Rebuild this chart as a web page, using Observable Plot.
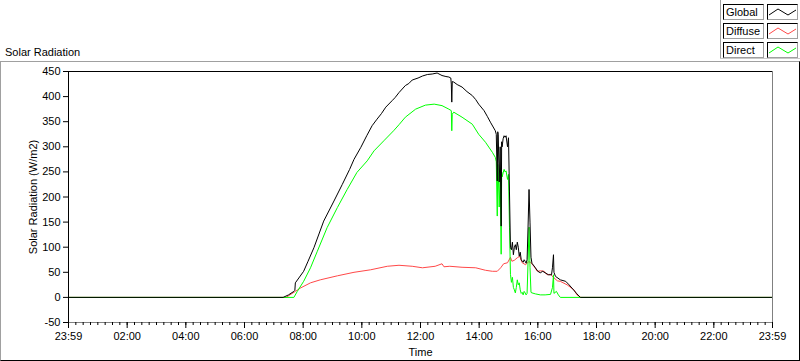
<!DOCTYPE html>
<html>
<head>
<meta charset="utf-8">
<script src="https://cdn.jsdelivr.net/npm/d3@7"></script>
<script src="https://cdn.jsdelivr.net/npm/@observablehq/plot@0.6"></script>
<style>
  body { margin: 0; background: #fff; }
  #wrap { position: relative; width: 800px; height: 361px; overflow: hidden;
          font-family: "Liberation Sans", Arial, sans-serif; font-size: 11px; color: #000; }
  .abs { position: absolute; }
  .box { position: absolute; box-sizing: border-box; height: 16px;
         border-top: 1px solid #000; border-left: 1px solid #000;
         border-right: 1px solid #a0a0a0; border-bottom: 1px solid #a0a0a0;
         background: #fff; line-height: 14px; padding-left: 2px; }
  #plot { position: absolute; left: 0; top: 0; }
</style>
</head>
<body>
<div id="wrap">
  <div class="abs" style="left:720px;top:0;width:1px;height:59px;background:#a0a0a0"></div>
  <div class="abs" style="left:720px;top:58px;width:80px;height:1px;background:#c8c8c8"></div>
  <div class="abs" style="left:0;top:61px;width:800px;height:300px;box-sizing:border-box;border-top:1px solid #a0a0a0;border-left:1px solid #a0a0a0;border-right:1px solid #000;border-bottom:1px solid #000"></div>
  <div class="abs" style="left:5px;top:46px;line-height:13px">Solar Radiation</div>
  <div id="legend"></div>
  <div id="plot"></div>
</div>
<script>
// ---- data (time of day "HH:MM", W/m2) ----
const globalData = [
  ["00:00",0],["07:19",0],["07:30",5],["07:41",12],["07:43",14],["07:44",29],["08:01",52],["08:10",72],["08:22",99],
  ["08:42",152],["09:03",192],["09:20",225],["09:35",255],["09:44",275],["09:58",299],["10:10",322],["10:21",342],
  ["10:31",355],["10:40",366],["10:49",379],["11:02",392],["11:08",398],["11:16",408],["11:29",422],["11:36",426],
  ["11:43",433],["11:55",437],["12:04",441],["12:14",444],["12:24",445],["12:34",447],["12:40",444],["12:44",442],
  ["12:52",440],["12:58",439],["13:02",437],["13:03",425],["13:04",389],["13:05",430],["13:08",429],["13:15",424],
  ["13:25",419],["13:35",410],["13:46",402],["13:53",394],["13:59",385],["14:10",372],["14:17",360],["14:23",349],
  ["14:33",332],["14:35",325],["14:37",232],["14:38",330],["14:39",325],["14:41",230],["14:43",300],["14:45",142],
  ["14:46",310],["14:47",300],["14:49",316],["14:51",322],["14:53",319],["14:55",322],["14:58",300],["15:00",318],
  ["15:02",210],["15:04",99],["15:06",95],["15:08",110],["15:10",85],["15:12",100],["15:14",105],["15:16",95],
  ["15:18",110],["15:20",100],["15:22",82],["15:24",90],["15:26",75],["15:28",72],["15:30",70],["15:32",75],
  ["15:34",72],["15:36",68],["15:38",75],["15:40",140],["15:42",215],["15:44",150],["15:46",80],["15:48",68],
  ["15:55",59],["16:00",52],["16:05",49],["16:10",52],["16:15",49],["16:22",45],["16:28",45],["16:30",60],
  ["16:32",85],["16:33",50],["16:36",42],["16:46",35],["16:57",32],["17:04",25],["17:13",15],["17:20",7],
  ["17:27",0],["24:00",0]
];
const diffuseData = [
  ["00:00",0],["07:25",0],["07:44",12],["07:55",19],["08:15",29],["08:35",35],["09:10",43],["09:44",50],
  ["10:18",55],["10:52",62],["11:16",64],["11:43",62],["12:04",59],["12:30",62],["12:44",67],["12:48",61],
  ["13:00",62],["13:25",60],["13:53",59],["14:13",54],["14:27",52],["14:37",52],["14:44",59],["14:50",67],
  ["14:58",69],["15:04",80],["15:07",72],["15:12",74],["15:18",79],["15:23",82],["15:28",69],["15:35",65],
  ["15:41",71],["15:45",70],["15:52",62],["15:59",52],["16:06",53],["16:13",52],["16:19",45],["16:26",46],
  ["16:33",39],["16:40",33],["16:46",32],["17:00",25],["17:14",15],["17:20",5],["17:28",0],["24:00",0]
];
const directData = [
  ["00:00",0],["07:41",0],["07:48",12],["08:01",32],["08:15",59],["08:29",92],["08:49",139],["09:10",179],
  ["09:30",215],["09:50",249],["10:11",272],["10:25",292],["10:45",312],["11:05",332],["11:16",344],["11:29",359],
  ["11:50",375],["12:10",383],["12:28",385],["12:44",382],["12:58",375],["13:03",372],["13:04",332],["13:05",365],
  ["13:08",369],["13:25",359],["13:46",345],["13:59",325],["14:13",309],["14:27",289],["14:33",279],["14:35",270],
  ["14:37",162],["14:38",265],["14:39",250],["14:41",180],["14:43",245],["14:45",86],["14:46",250],["14:47",240],
  ["14:49",248],["14:51",255],["14:53",250],["14:55",252],["14:58",235],["15:00",245],["15:02",140],["15:04",46],
  ["15:06",30],["15:08",40],["15:10",20],["15:12",15],["15:14",9],["15:16",20],["15:18",35],["15:20",25],
  ["15:22",29],["15:24",15],["15:26",8],["15:28",10],["15:30",5],["15:32",12],["15:34",9],["15:36",5],
  ["15:38",8],["15:40",70],["15:42",140],["15:44",60],["15:46",10],["15:48",9],["15:55",7],["16:05",5],
  ["16:15",5],["16:26",6],["16:30",20],["16:32",45],["16:33",8],["16:38",12],["16:42",5],["16:46",0],["24:00",0]
];
const series = ["Global", "Diffuse", "Direct"];
const seriesColors = ["#000000", "#ff4848", "#00ff00"];
const yTicks = [-50, 0, 50, 100, 150, 200, 250, 300, 350, 400, 450];
const xMajorTicks = [0, 2, 4, 6, 8, 10, 12, 14, 16, 18, 20, 22, 24];
const xTickLabels = ["23:59","02:00","04:00","06:00","08:00","10:00","12:00","14:00","16:00","18:00","20:00","22:00","23:59"];

// ---- build ----
const toH = s => { const [h, m] = s.split(":").map(Number); return h + m / 60; };
const rows = arr => arr.map(([t, v]) => ({t: toH(t), v}));
const G = rows(globalData), D = rows(diffuseData), R = rows(directData);
const xMinor = d3.range(0, 24.001, 0.25);

const chart = Plot.plot({
  width: 800, height: 361,
  marginLeft: 68, marginRight: 28, marginTop: 71, marginBottom: 39,
  x: {domain: [0, 24], axis: null},
  y: {domain: [-50, 450], axis: null},
  style: {fontFamily: "'Liberation Sans', Arial, sans-serif", fontSize: "11px", background: "transparent", color: "#000", overflow: "visible"},
  marks: [
    Plot.line(D, {x: "t", y: "v", stroke: seriesColors[1], strokeWidth: 1}),
    Plot.line(R, {x: "t", y: "v", stroke: seriesColors[2], strokeWidth: 1}),
    Plot.line(G, {x: "t", y: "v", stroke: seriesColors[0], strokeWidth: 1}),
    Plot.ruleY([-50], {stroke: "#808080"}),
    Plot.ruleX([24], {stroke: "#808080"}),
    Plot.ruleY([450], {stroke: "#000"}),
    Plot.ruleX([0], {stroke: "#000"}),
    Plot.axisY({ticks: yTicks, tickSize: 5, tickPadding: 3, label: null, tickFormat: d => String(d)}),
    Plot.axisX({ticks: xMinor, tickSize: 3, label: null, tickFormat: () => ""}),
    Plot.axisX({ticks: xMajorTicks, tickSize: 6, tickPadding: 4, label: null,
                tickFormat: d => xTickLabels[xMajorTicks.indexOf(d)]}),
    Plot.text(["Solar Radiation (W/m2)"], {frameAnchor: "left", text: d => d, rotate: -90, dx: -35, textAnchor: "middle"}),
    Plot.text(["Time"], {frameAnchor: "bottom", text: d => d, dy: 30, textAnchor: "middle", lineAnchor: "middle"})
  ]
});
document.getElementById("plot").appendChild(chart);

// ---- legend ----
const legend = document.getElementById("legend");
series.forEach((name, i) => {
  const top = 4 + i * 19;
  const lab = document.createElement("div");
  lab.className = "box";
  lab.style.left = "723px"; lab.style.top = top + "px"; lab.style.width = "41px";
  lab.textContent = name;
  legend.appendChild(lab);
  const sw = document.createElement("div");
  sw.className = "box";
  sw.style.left = "767px"; sw.style.top = top + "px"; sw.style.width = "31px"; sw.style.padding = "0";
  sw.innerHTML = `<svg width="29" height="14" style="display:block"><polyline points="1,10 10,4 20,10 28,5" fill="none" stroke="${seriesColors[i]}" stroke-width="1"/></svg>`;
  legend.appendChild(sw);
});
</script>
</body>
</html>
